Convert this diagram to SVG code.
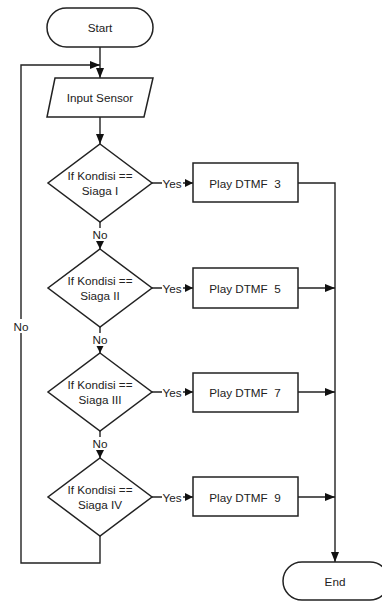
<svg xmlns="http://www.w3.org/2000/svg" width="382" height="602" viewBox="0 0 382 602">
<style>
.s{fill:#fff;stroke:#222;stroke-width:1.5}
.c{fill:none;stroke:#222;stroke-width:1.4}
text{font-family:"Liberation Sans",Arial,sans-serif;font-size:11.7px;fill:#222;text-anchor:middle;dominant-baseline:central;white-space:pre}
.bg{fill:#fff;stroke:none}
</style>
<defs>
<marker id="a" viewBox="0 0 10 10" refX="10" refY="5" markerWidth="8" markerHeight="8" markerUnits="userSpaceOnUse" orient="auto">
<path d="M0,0 L10,5 L0,10 z" fill="#111"/>
</marker>
<marker id="b" viewBox="0 0 10 10" refX="10" refY="5" markerWidth="10" markerHeight="10" markerUnits="userSpaceOnUse" orient="auto">
<path d="M0,1 L10,5 L0,9 z" fill="#111"/>
</marker>
</defs>
<rect width="382" height="602" fill="#fff"/>
<g id="connectors">
<path class="c" d="M100,47 V78" marker-end="url(#b)"/>
<path class="c" d="M100,117 V144" marker-end="url(#b)"/>
<path class="c" d="M100,536 V563 H21 V65 H100" marker-end="url(#b)"/>
<path class="c" d="M100,222 V249" marker-end="url(#a)"/>
<path class="c" d="M100,327 V353" marker-end="url(#a)"/>
<path class="c" d="M100,431 V458" marker-end="url(#a)"/>
<path class="c" d="M152,183 H193" marker-end="url(#a)"/>
<path class="c" d="M152,288 H193" marker-end="url(#a)"/>
<path class="c" d="M152,392 H193" marker-end="url(#a)"/>
<path class="c" d="M152,497 H193" marker-end="url(#a)"/>
<path class="c" d="M298,183 H335 V562" marker-end="url(#b)"/>
<path class="c" d="M298,288 H335" marker-end="url(#b)"/>
<path class="c" d="M298,392 H335" marker-end="url(#b)"/>
<path class="c" d="M298,497 H335" marker-end="url(#b)"/>
<rect class="bg" x="162" y="176" width="21" height="14"/>
<text x="172" y="183">Yes</text>
<rect class="bg" x="162" y="281" width="21" height="14"/>
<text x="172" y="288">Yes</text>
<rect class="bg" x="162" y="385" width="21" height="14"/>
<text x="172" y="392">Yes</text>
<rect class="bg" x="162" y="490" width="21" height="14"/>
<text x="172" y="497">Yes</text>
<rect class="bg" x="90" y="228" width="20" height="13"/>
<text x="100" y="234">No</text>
<rect class="bg" x="90" y="333" width="20" height="13"/>
<text x="100" y="339">No</text>
<rect class="bg" x="90" y="437" width="20" height="13"/>
<text x="100" y="443">No</text>
<rect class="bg" x="11" y="319" width="20" height="14"/>
<text x="21" y="326">No</text>
</g>
<g id="start">
<rect class="s" x="47" y="8" width="106" height="39" rx="19.5"/>
<text x="100" y="27">Start</text>
</g>
<g id="input">
<polygon class="s" points="55,78 153,78 144,117 47,117"/>
<text x="100" y="97">Input Sensor</text>
</g>
<g id="d1">
<polygon class="s" points="100,144 152,183 100,222 48,183"/>
<text x="100" y="175">If Kondisi ==</text>
<text x="100" y="190">Siaga I</text>
</g>
<g id="d2">
<polygon class="s" points="100,249 152,288 100,327 48,288"/>
<text x="100" y="280">If Kondisi ==</text>
<text x="100" y="295">Siaga II</text>
</g>
<g id="d3">
<polygon class="s" points="100,353 152,392 100,431 48,392"/>
<text x="100" y="384">If Kondisi ==</text>
<text x="100" y="399">Siaga III</text>
</g>
<g id="d4">
<polygon class="s" points="100,458 152,497 100,536 48,497"/>
<text x="100" y="489">If Kondisi ==</text>
<text x="100" y="504">Siaga IV</text>
</g>
<g id="p3">
<rect class="s" x="193" y="163" width="105" height="39"/>
<text x="245" y="183">Play DTMF  3</text>
</g>
<g id="p5">
<rect class="s" x="193" y="268" width="105" height="40"/>
<text x="245" y="288">Play DTMF  5</text>
</g>
<g id="p7">
<rect class="s" x="193" y="373" width="105" height="39"/>
<text x="245" y="392">Play DTMF  7</text>
</g>
<g id="p9">
<rect class="s" x="193" y="477" width="105" height="39"/>
<text x="245" y="497">Play DTMF  9</text>
</g>
<g id="end">
<rect class="s" x="283" y="562" width="106" height="38" rx="19"/>
<text x="335" y="581">End</text>
</g>
</svg>
